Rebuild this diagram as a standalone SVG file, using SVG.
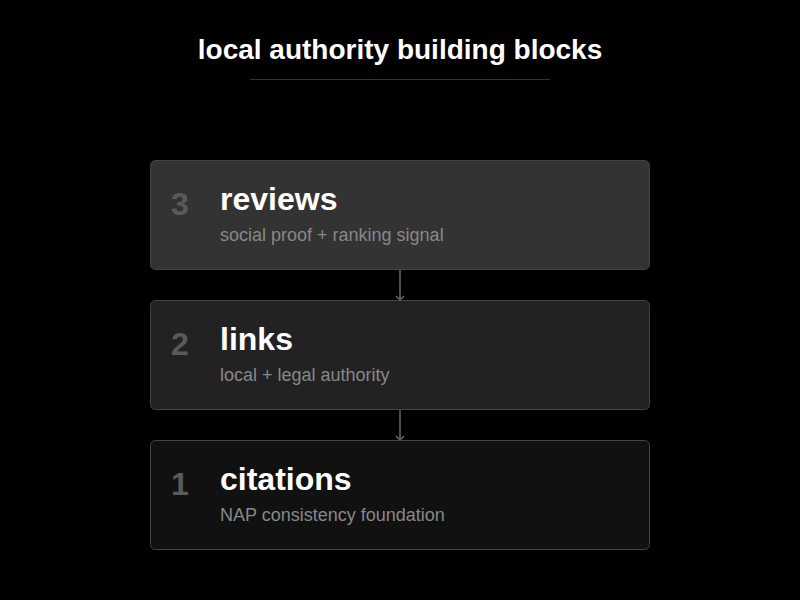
<svg xmlns="http://www.w3.org/2000/svg" width="800" height="600" viewBox="0 0 800 600">
<style>
.box{stroke:#444;stroke-width:1}
.num{font-family:"Liberation Sans",Arial,sans-serif;font-weight:bold;font-size:32px;fill:#5a5a5a}
.head{font-family:"Liberation Sans",Arial,sans-serif;font-weight:bold;font-size:32px;fill:#fff}
.sub{font-family:"Liberation Sans",Arial,sans-serif;font-size:18px;fill:#888}
.title{font-family:"Liberation Sans",Arial,sans-serif;font-weight:bold;font-size:28px;fill:#fff}
.conn{stroke:#666;stroke-width:1.5;fill:none}
</style>
<defs>
<marker id="arr" markerWidth="10" markerHeight="10" refX="5" refY="5" orient="auto" markerUnits="userSpaceOnUse">
<path d="M1,1 L5,5 L1,9" fill="none" stroke="#666" stroke-width="1.5"/>
</marker>
</defs>
<rect width="800" height="600" fill="#000"/>
<text class="title" x="400" y="59" text-anchor="middle">local authority building blocks</text>
<line x1="250" y1="79.500" x2="550" y2="79.500" stroke="#333" stroke-width="1"/>
<g id="connectors">
<line class="conn" x1="400" y1="270" x2="400" y2="300" marker-end="url(#arr)"/>
<line class="conn" x1="400" y1="410" x2="400" y2="440" marker-end="url(#arr)"/>
</g>
<g id="node-reviews">
<rect class="box" x="150.500" y="160.500" width="499" height="109" rx="5" fill="#333"/>
<text class="num" x="180" y="215" text-anchor="middle">3</text>
<text class="head" x="220" y="210">reviews</text>
<text class="sub" x="220" y="241">social proof + ranking signal</text>
</g>
<g id="node-links">
<rect class="box" x="150.500" y="300.500" width="499" height="109" rx="5" fill="#222"/>
<text class="num" x="180" y="355" text-anchor="middle">2</text>
<text class="head" x="220" y="350">links</text>
<text class="sub" x="220" y="381">local + legal authority</text>
</g>
<g id="node-citations">
<rect class="box" x="150.500" y="440.500" width="499" height="109" rx="5" fill="#111"/>
<text class="num" x="180" y="495" text-anchor="middle">1</text>
<text class="head" x="220" y="490">citations</text>
<text class="sub" x="220" y="521">NAP consistency foundation</text>
</g>
</svg>
